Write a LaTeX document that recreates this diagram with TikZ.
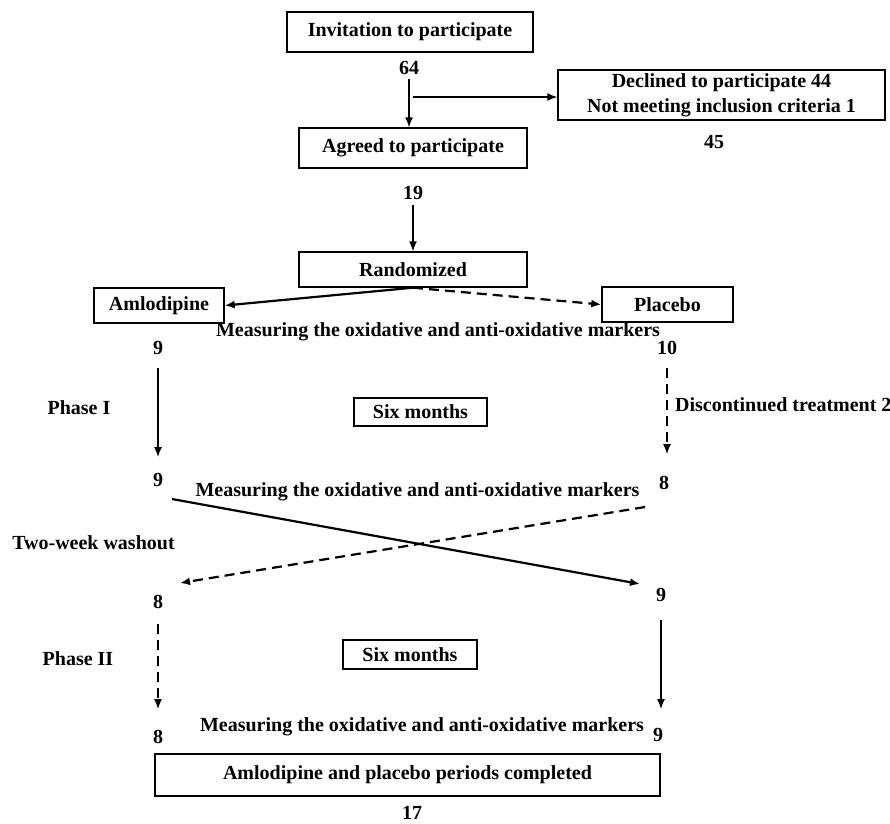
\documentclass[tikz,border=0pt]{standalone}
\usepackage{fontspec}
\setmainfont{Liberation Serif}
\usetikzlibrary{arrows.meta}
\begin{document}
\begin{tikzpicture}[x=1pt,y=-1pt,
  font=\fontsize{20}{25}\selectfont\bfseries,
  box/.style={draw, line width=1.4pt, inner sep=0pt, align=center},
  lbl/.style={inner sep=0pt},
  num/.style={inner sep=0pt},
  arr/.style={line width=1.5pt, -{Latex[length=10pt,width=8pt]}},
  thickarr/.style={line width=2.2pt, -{Latex[length=10pt,width=8pt]}},
  dasharr/.style={line width=2.2pt, dash pattern=on 10pt off 6pt, -{Latex[length=10pt,width=8pt]}}]
\useasboundingbox[fill=white] (0,0) rectangle (890,823);

% boxes
\node[box, minimum width=246pt, minimum height=40pt] (inv) at (410,32) {Invitation to participate};
\node[box, minimum width=327pt, minimum height=50pt] (dec) at (721.5,95) {Declined to participate 44\\Not meeting inclusion criteria 1};
\node[box, minimum width=228pt, minimum height=40pt] (agr) at (413,148) {Agreed to participate};
\node[box, minimum width=228pt, minimum height=35pt] (rnd) at (413,269.5) {Randomized};
\node[box, minimum width=130pt, minimum height=35pt] (aml) at (159,305.5) {Amlodipine};
\node[box, minimum width=131pt, minimum height=35pt] (pla) at (667.5,304.5) {Placebo};
\node[box, minimum width=133pt, minimum height=28pt] (six1) at (420.5,412) {Six months};
\node[box, minimum width=134pt, minimum height=29pt] (six2) at (410,654.5) {Six months};
\node[box, minimum width=505pt, minimum height=42pt] (fin) at (407.5,775) {Amlodipine and placebo periods completed};

% numbers
\node[num] (n64) at (409,68) {64};
\node[num] (n45) at (714,142) {45};
\node[num] (n19) at (413,193) {19};
\node[num] (n9a) at (158,348) {9};
\node[num] (n10) at (667,348) {10};
\node[num] (n9b) at (158,480) {9};
\node[num] (n8a) at (664,483) {8};
\node[num] (n8b) at (158,602) {8};
\node[num] (n9c) at (661,595) {9};
\node[num] (n8c) at (158,737) {8};
\node[num] (n9d) at (658,735) {9};
\node[num] (n17) at (412,812.5) {17};

% labels
\node[lbl] (meas1) at (438,332) {Measuring the oxidative and anti-oxidative markers};
\node[lbl] (meas2) at (417.5,492) {Measuring the oxidative and anti-oxidative markers};
\node[lbl] (meas3) at (422,727) {Measuring the oxidative and anti-oxidative markers};
\node[lbl] (ph1) at (79,408) {Phase I};
\node[lbl] (ph2) at (78,659) {Phase II};
\node[lbl] (wash) at (93.5,543) {Two-week washout};
\node[lbl, anchor=west] (disc) at (675,405) {Discontinued treatment 2};

% connectors
\draw[arr, shorten <=4pt] (n64.south) -- (n64.south |- agr.north);
\coordinate (br) at (413,97);
\draw[arr] (br) -- (dec.west |- br);
\draw[arr, shorten <=5pt] (n19.south) -- (n19.south |- rnd.north);
\draw[thickarr] (rnd.south) -- (aml.east);
\draw[dasharr] (rnd.south) -- (pla.west);
\draw[arr, shorten <=13pt, shorten >=16pt] (n9a.south) -- (n9b.north);
\draw[dasharr, line width=1.5pt, shorten <=13pt, shorten >=22pt] (n10.south) -- (n10.south |- n8a.north);
\coordinate (c1s) at (172,499);
\coordinate (c1e) at (640,584);
\coordinate (c2s) at (645,507);
\coordinate (c2e) at (180,583);
\draw[thickarr] (c1s) -- (c1e);
\draw[dasharr] (c2s) -- (c2e);
\draw[dasharr, line width=1.5pt, shorten <=15pt, shorten >=21pt] (n8b.south) -- (n8b.south |- n8c.north);
\draw[arr, shorten <=18pt, shorten >=19pt] (n9c.south) -- (n9c.south |- n9d.north);
\end{tikzpicture}
\end{document}
